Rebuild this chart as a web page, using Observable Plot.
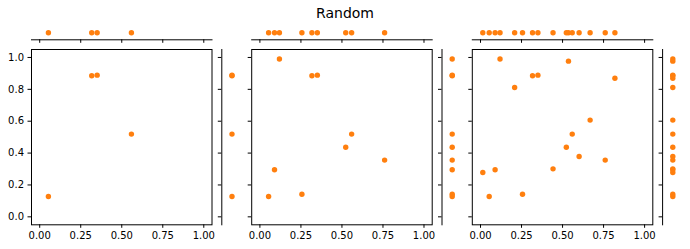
<!DOCTYPE html>
<html>
<head>
<meta charset="utf-8">
<script src="https://cdn.jsdelivr.net/npm/d3@7"></script>
<script src="https://cdn.jsdelivr.net/npm/@observablehq/plot@0.6"></script>
<style>
  html, body { margin: 0; padding: 0; background: white; }
  #fig { position: relative; width: 690px; height: 249px; background: white; overflow: hidden; }
  #fig svg { position: absolute; left: 0; top: 0; }
  #title { position: absolute; left: 0; width: 690px; top: 5px; text-align: center;
           font-family: "DejaVu Sans", sans-serif; font-size: 14px; color: black; line-height: normal; }
</style>
</head>
<body>
<div id="fig"><div id="title">Random</div></div>
<script>
// ---- data ----
const title = "Random";
const xTicks = [0, 0.25, 0.5, 0.75, 1];
const yTicks = [0, 0.2, 0.4, 0.6, 0.8, 1];

const x1 = [0.053, 0.317, 0.350, 0.559];
const y1 = [0.128, 0.885, 0.889, 0.519];

const x2 = [0.119, 0.317, 0.350, 0.559, 0.523, 0.760, 0.089, 0.053, 0.256];
const y2 = [0.990, 0.885, 0.889, 0.519, 0.437, 0.356, 0.295, 0.128, 0.142];

const x3 = [0.119, 0.536, 0.317, 0.350, 0.819, 0.208, 0.668, 0.559, 0.523, 0.601, 0.760, 0.442, 0.089, 0.014, 0.053, 0.256];
const y3 = [0.990, 0.977, 0.885, 0.889, 0.870, 0.812, 0.607, 0.519, 0.437, 0.379, 0.356, 0.301, 0.295, 0.278, 0.128, 0.142];

// ---- layout ----
const FW = 690, FH = 249;
const domain = [-0.05, 1.05];
const W = 180.5, TOP = 49, BOTTOM = 224.3;
const color = "#ff7f0e";
const R = 2.7;
const style = {fontFamily: "DejaVu Sans, sans-serif", fontSize: "10px", background: "transparent", color: "black", overflow: "visible"};

const panels = [
  {xs: x1, ys: y1, left: 31, yLabels: true},
  {xs: x2, ys: y2, left: 251.2, yLabels: false},
  {xs: x3, ys: y3, left: 471.8, yLabels: false}
];

const fig = document.getElementById("fig");
document.getElementById("title").textContent = title;
const blank = () => "";

for (const p of panels) {
  const L = p.left;
  const pts = p.xs.map((x, i) => ({x, y: p.ys[i]}));

  // main scatter
  fig.appendChild(Plot.plot({
    width: FW, height: FH, style,
    marginLeft: L, marginRight: FW - (L + W), marginTop: TOP, marginBottom: FH - BOTTOM,
    x: {domain, ticks: xTicks, tickFormat: d3.format(".2f"), tickSize: 3.5, tickPadding: 4, label: null},
    y: {domain, ticks: yTicks, tickFormat: p.yLabels ? d3.format(".1f") : blank, tickSize: 3.5, tickPadding: 4, label: null},
    marks: [
      Plot.frame({stroke: "black", strokeWidth: 1}),
      Plot.dot(pts, {x: "x", y: "y", r: R, fill: color, stroke: "none"})
    ]
  }));

  // top marginal strip (x values)
  fig.appendChild(Plot.plot({
    width: FW, height: FH, style,
    marginLeft: L, marginRight: FW - (L + W), marginTop: 25.3, marginBottom: FH - 39.3,
    x: {domain, ticks: xTicks, tickFormat: blank, tickSize: 3.5, line: true, label: null},
    marks: [Plot.dotX(p.xs, {r: R, fill: color, stroke: "none"})]
  }));

  // right marginal strip (y values)
  fig.appendChild(Plot.plot({
    width: FW, height: FH, style,
    marginLeft: L + 190.3, marginRight: FW - (L + 210.7), marginTop: TOP, marginBottom: FH - BOTTOM,
    y: {domain, ticks: yTicks, tickFormat: blank, tickSize: 3.5, line: true, label: null},
    marks: [Plot.dotY(p.ys, {r: R, fill: color, stroke: "none"})]
  }));
}
</script>
</body>
</html>
